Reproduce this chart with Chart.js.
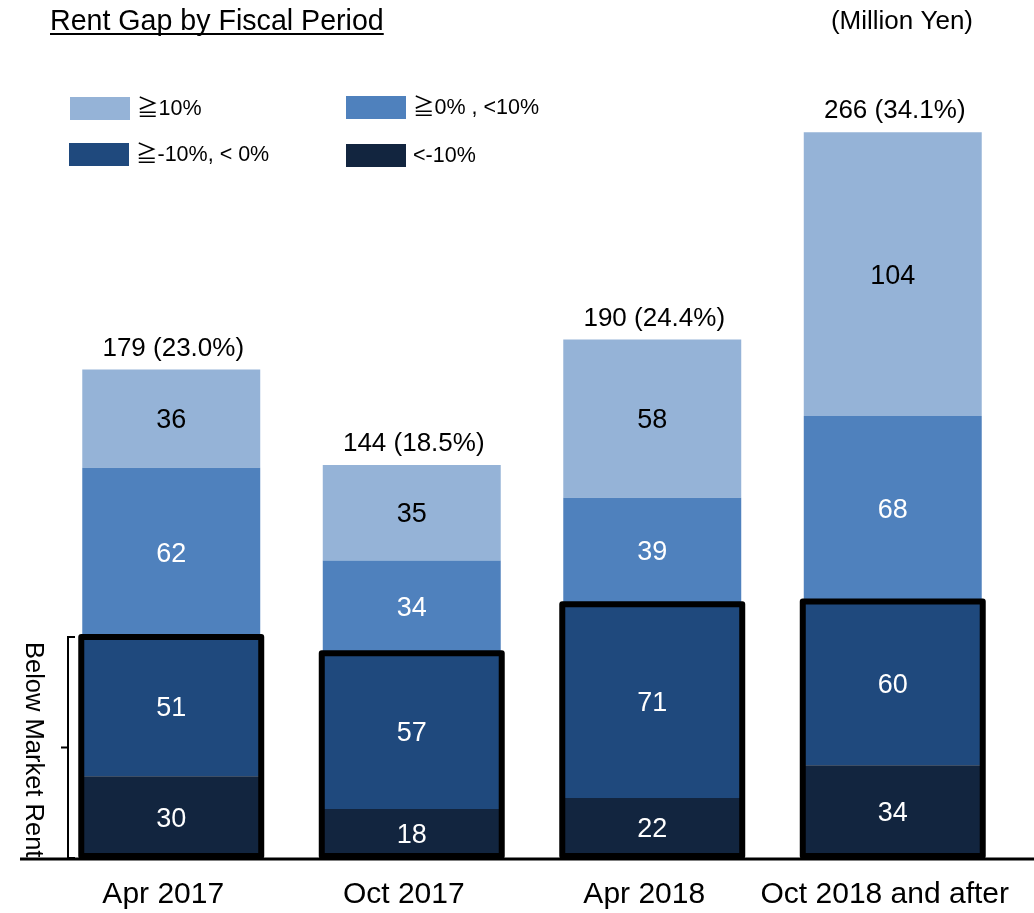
<!DOCTYPE html>
<html><head><meta charset="utf-8">
<script src="https://cdn.jsdelivr.net/npm/chart.js@4/dist/chart.umd.min.js"></script>
<style>html,body{margin:0;padding:0;background:#fff;} canvas{display:block;}</style>
</head><body>
<canvas id="c" width="1034" height="913"></canvas>
<script>
// ---- data ----
const categories = ['Apr 2017', 'Oct 2017', 'Apr 2018', 'Oct 2018 and after'];
const seriesNames = ['<-10%', '≧-10%, < 0%', '≧0% , <10%', '≧10%'];
const belowMinus10 = [30, 18, 22, 34];
const minus10To0 = [51, 57, 71, 60];
const zeroTo10 = [62, 34, 39, 68];
const above10 = [36, 35, 58, 104];
const totalShares = ['23.0%', '18.5%', '24.4%', '34.1%'];
const chartTitle = 'Rent Gap by Fiscal Period';
const unitLabel = '(Million Yen)';
const bracketLabel = 'Below Market Rent';

// ---- styles ----
const colors = ['#12253F', '#1F497D', '#4F81BD', '#95B3D7'];
const valueColors = ['#ffffff', '#ffffff', '#ffffff', '#000000'];
const FONT = "'Liberation Sans', Arial, 'Noto Sans CJK JP', sans-serif";

const seriesValues = [belowMinus10, minus10To0, zeroTo10, above10];

const overlay = {
  id: 'overlay',
  afterDatasetsDraw(chart) {
    const ctx = chart.ctx;
    const y = chart.scales.y;
    const metas = [0, 1, 2, 3].map(i => chart.getDatasetMeta(i));
    ctx.save();

    // baseline
    const y0 = y.getPixelForValue(0);
    ctx.strokeStyle = '#000';
    ctx.lineWidth = 3;
    ctx.beginPath(); ctx.moveTo(20, y0 + 1); ctx.lineTo(1034, y0 + 1); ctx.stroke();

    // segment values
    ctx.font = '27px ' + FONT;
    ctx.textAlign = 'center';
    ctx.textBaseline = 'middle';
    metas.forEach((m, si) => {
      m.data.forEach((el, i) => {
        ctx.fillStyle = valueColors[si];
        ctx.fillText(String(seriesValues[si][i]), el.x, (el.y + el.base) / 2 + 2);
      });
    });

    // outlines around below-market segments
    ctx.lineWidth = 6;
    ctx.lineJoin = 'round';
    metas[0].data.forEach((el, i) => {
      const top = metas[1].data[i].y;
      const bottom = el.base;
      const l = el.x - el.width / 2 - 1, r = el.x + el.width / 2 + 1;
      ctx.strokeRect(l, top, r - l, bottom - top - 2);
    });

    // totals
    ctx.font = '26px ' + FONT;
    ctx.fillStyle = '#000';
    ctx.textBaseline = 'alphabetic';
    metas[3].data.forEach((el, i) => {
      const total = seriesValues.reduce((s, arr) => s + arr[i], 0);
      ctx.fillText(total + ' (' + totalShares[i] + ')', el.x + 2, el.y - 14);
    });

    // bracket for below market rent (first bar)
    const bTop = metas[1].data[0].y;
    const bBot = y0;
    ctx.lineWidth = 2;
    ctx.lineJoin = 'miter';
    ctx.beginPath();
    ctx.moveTo(75, bTop); ctx.lineTo(68, bTop); ctx.lineTo(68, bBot); ctx.lineTo(75, bBot);
    const mid = (bTop + bBot) / 2;
    ctx.moveTo(68, mid); ctx.lineTo(61, mid);
    ctx.stroke();
    ctx.save();
    ctx.translate(26, bTop + 5);
    ctx.rotate(Math.PI / 2);
    ctx.font = '25.5px ' + FONT;
    ctx.textAlign = 'left';
    ctx.textBaseline = 'alphabetic';
    ctx.fillText(bracketLabel, 0, 0);
    ctx.restore();

    // title
    ctx.font = '28.6px ' + FONT;
    ctx.textAlign = 'left';
    ctx.textBaseline = 'alphabetic';
    ctx.fillText(chartTitle, 50, 30);
    const tw = ctx.measureText(chartTitle).width;
    ctx.fillRect(50, 33, tw, 2);

    // unit
    ctx.font = '26px ' + FONT;
    ctx.textAlign = 'right';
    ctx.fillText(unitLabel, 973, 29);

    // legend
    const legendPos = [
      { si: 3, x: 70, y: 97 },
      { si: 2, x: 346, y: 96 },
      { si: 1, x: 69, y: 143 },
      { si: 0, x: 346, y: 144 }
    ];
    ctx.font = '21.5px ' + FONT;
    ctx.textAlign = 'left';
    ctx.textBaseline = 'middle';
    legendPos.forEach(p => {
      ctx.fillStyle = colors[p.si];
      ctx.fillRect(p.x, p.y, 60, 23);
      ctx.fillStyle = '#000';
      ctx.fillText(seriesNames[p.si], p.x + 67, p.y + 12);
    });

    ctx.restore();
  }
};

new Chart(document.getElementById('c'), {
  type: 'bar',
  data: {
    labels: categories,
    datasets: seriesValues.map((vals, i) => ({
      label: seriesNames[i],
      data: vals,
      backgroundColor: colors[i],
      borderWidth: 0,
      barPercentage: 0.74,
      categoryPercentage: 1.0
    }))
  },
  options: {
    responsive: false,
    animation: false,
    layout: { padding: { top: 94, left: 51, right: 21, bottom: 0 } },
    plugins: { legend: { display: false }, tooltip: { enabled: false }, title: { display: false } },
    scales: {
      x: {
        stacked: true,
        grid: { display: false, drawTicks: false },
        border: { display: false },
        ticks: { color: '#000', font: { family: FONT, size: 30 }, padding: 19, labelOffset: -8, maxRotation: 0, autoSkip: false },
        afterFit: s => { s.height = 55; s.paddingLeft = 0; s.paddingRight = 0; }
      },
      y: {
        stacked: true,
        display: false,
        min: 0,
        max: 280
      }
    }
  },
  plugins: [overlay]
});
</script>
</body></html>
